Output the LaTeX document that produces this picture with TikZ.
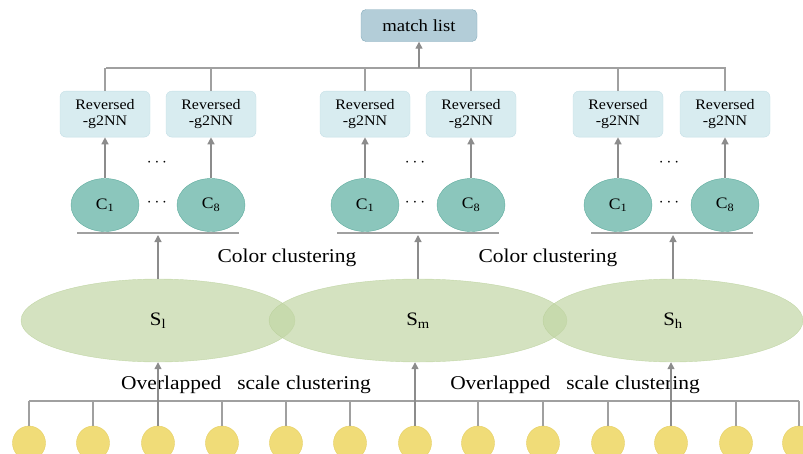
\documentclass[tikz,border=0pt]{standalone}
\usepackage{fontspec}
\setmainfont{Liberation Serif}[FakeStretch=1.1]
\usepackage{tikz}
\usetikzlibrary{arrows.meta, positioning, shapes.geometric}

\definecolor{mlfill}{HTML}{B3CDD8}
\definecolor{mlline}{HTML}{86ACBC}
\definecolor{revfill}{HTML}{D8ECF0}
\definecolor{revline}{HTML}{C4DFE6}
\definecolor{cfill}{HTML}{8BC6BC}
\definecolor{cline}{HTML}{5FAC9E}
\definecolor{sfill}{HTML}{C2D6A5}
\definecolor{sline}{HTML}{B5CD95}
\definecolor{pfill}{HTML}{F0DC78}
\definecolor{pline}{HTML}{E6CF62}
\definecolor{linegray}{HTML}{A0A0A0}
\definecolor{arrgray}{HTML}{8C8C8C}

\begin{document}
\begin{tikzpicture}[x=1pt, y=-1pt,
        mlist/.style={rectangle, draw=mlline, fill=mlfill, rounded corners=5pt,
                     minimum width=116pt, minimum height=32pt,
                     font=\fontsize{17}{19}\selectfont},
        rev/.style={rectangle, draw=revline, fill=revfill, rounded corners=6pt,
                     minimum width=90pt, minimum height=46pt, align=center,
                     font=\fontsize{14.5}{16}\selectfont},
        cclus/.style={ellipse, draw=cline, fill=cfill, minimum width=68pt,
                     minimum height=53pt, font=\fontsize{16}{18}\selectfont},
        sclus/.style={ellipse, draw=sline, fill=sfill, fill opacity=0.7,
                     draw opacity=0.7, text opacity=1, minimum height=83pt,
                     font=\fontsize{19}{21}\selectfont},
        feat/.style={ellipse, draw=pline, fill=pfill, minimum width=33pt,
                     minimum height=34pt, inner sep=0pt},
        lbl/.style={font=\fontsize{19.5}{22}\selectfont},
        dts/.style={font=\fontsize{19}{20}\selectfont},
        conn/.style={draw=linegray, line width=1.2pt},
        arr/.style={-{Triangle[length=7pt, width=7pt]}, line width=1.3pt, draw=arrgray}
    ]
        \clip (0,0) rectangle (803,453);

        % scale clusters
        \node[sclus, minimum width=274pt] (sl) at (158,320.5) {S\textsubscript{l}};
        \node[sclus, minimum width=298pt] (sm) at (418,320.5) {S\textsubscript{m}};
        \node[sclus, minimum width=260pt] (sh) at (673,320.5) {S\textsubscript{h}};

        % color clusters
        \node[cclus] (c11) at (105,205) {C\textsubscript{1}};
        \node[cclus] (c18) at (211,205) {C\textsubscript{8}};
        \node[cclus] (c21) at (365,205) {C\textsubscript{1}};
        \node[cclus] (c28) at (471,205) {C\textsubscript{8}};
        \node[cclus] (c31) at (618,205) {C\textsubscript{1}};
        \node[cclus] (c38) at (725,205) {C\textsubscript{8}};

        \node[rev, above=41pt of c11] (r11) {Reversed\\-g2NN};
        \node[rev, above=41pt of c18] (r18) {Reversed\\-g2NN};
        \node[rev, above=41pt of c21] (r21) {Reversed\\-g2NN};
        \node[rev, above=41pt of c28] (r28) {Reversed\\-g2NN};
        \node[rev, above=41pt of c31] (r31) {Reversed\\-g2NN};
        \node[rev, above=41pt of c38] (r38) {Reversed\\-g2NN};

        \node[mlist] (ml) at (419,25.5) {match list};

        \node[dts] (d1a) at (157,163) {$\cdots$};
        \node[dts] (d1b) at (157,203) {$\cdots$};
        \node[dts] (d2a) at (415,163) {$\cdots$};
        \node[dts] (d2b) at (415,203) {$\cdots$};
        \node[dts] (d3a) at (669,163) {$\cdots$};
        \node[dts] (d3b) at (669,203) {$\cdots$};

        \node[lbl] (cc1) at (287,258) {Color clustering};
        \node[lbl] (cc2) at (548,258) {Color clustering};
        \node[lbl] (oc1) at (246,385) {Overlapped\hspace{16pt}scale\hspace{6pt}clustering};
        \node[lbl] (oc2) at (575,385) {Overlapped\hspace{16pt}scale\hspace{6pt}clustering};

        % features
        \node[feat] (p1)  at (29,443)  {}; \node[feat] (p2)  at (93,443)  {};
        \node[feat] (p3)  at (158,443) {}; \node[feat] (p4)  at (222,443) {};
        \node[feat] (p5)  at (286,443) {}; \node[feat] (p6)  at (350,443) {};
        \node[feat] (p7)  at (415,443) {}; \node[feat] (p8)  at (478,443) {};
        \node[feat] (p9)  at (543,443) {}; \node[feat] (p10) at (608,443) {};
        \node[feat] (p11) at (671,443) {}; \node[feat] (p12) at (736,443) {};
        \node[feat] (p13) at (799,443) {};

        % connectors
        \coordinate (hl) at (29,401);  \coordinate (hr) at (799,401);
        \draw[conn] (hl) -- (hr);
        \draw[conn] (p1.north) -- (p1.north |- hl);  \draw[conn] (p2.north) -- (p2.north |- hl);
        \draw[conn] (p4.north) -- (p4.north |- hl);  \draw[conn] (p5.north) -- (p5.north |- hl);
        \draw[conn] (p6.north) -- (p6.north |- hl);  \draw[conn] (p8.north) -- (p8.north |- hl);
        \draw[conn] (p9.north) -- (p9.north |- hl);  \draw[conn] (p10.north) -- (p10.north |- hl);
        \draw[conn] (p12.north) -- (p12.north |- hl); \draw[conn] (p13.north) -- (p13.north |- hl);
        \draw[arr] (p3.north) -- (p3.north |- sl.south);
        \draw[arr] (p7.north) -- (p7.north |- sm.south);
        \draw[arr] (p11.north) -- (p11.north |- sh.south);

        \coordinate (u1l) at (77,233);  \coordinate (u1r) at (239,233);
        \coordinate (u2l) at (337,233); \coordinate (u2r) at (499,233);
        \coordinate (u3l) at (591,233); \coordinate (u3r) at (753,233);
        \draw[conn] (u1l) -- (u1r); \draw[conn] (u2l) -- (u2r); \draw[conn] (u3l) -- (u3r);
        \draw[arr] (sl.north) -- ([yshift=-2pt]sl.north |- u1l);
        \draw[arr] (sm.north) -- ([yshift=-2pt]sm.north |- u2l);
        \draw[arr] (sh.north) -- ([yshift=-2pt]sh.north |- u3l);

        \draw[arr] (c11) -- (r11); \draw[arr] (c18) -- (r18);
        \draw[arr] (c21) -- (r21); \draw[arr] (c28) -- (r28);
        \draw[arr] (c31) -- (r31); \draw[arr] (c38) -- (r38);

        \coordinate (tl) at (106,68); \coordinate (tr) at (726,68);
        \draw[conn] (tl) -- (tr);
        \draw[conn] (r11.north) -- (r11.north |- tl); \draw[conn] (r18.north) -- (r18.north |- tl);
        \draw[conn] (r21.north) -- (r21.north |- tl); \draw[conn] (r28.north) -- (r28.north |- tl);
        \draw[conn] (r31.north) -- (r31.north |- tl); \draw[conn] (r38.north) -- (r38.north |- tl);
        \draw[arr] (ml.south |- tl) -- (ml.south);
    \end{tikzpicture}
\end{document}
